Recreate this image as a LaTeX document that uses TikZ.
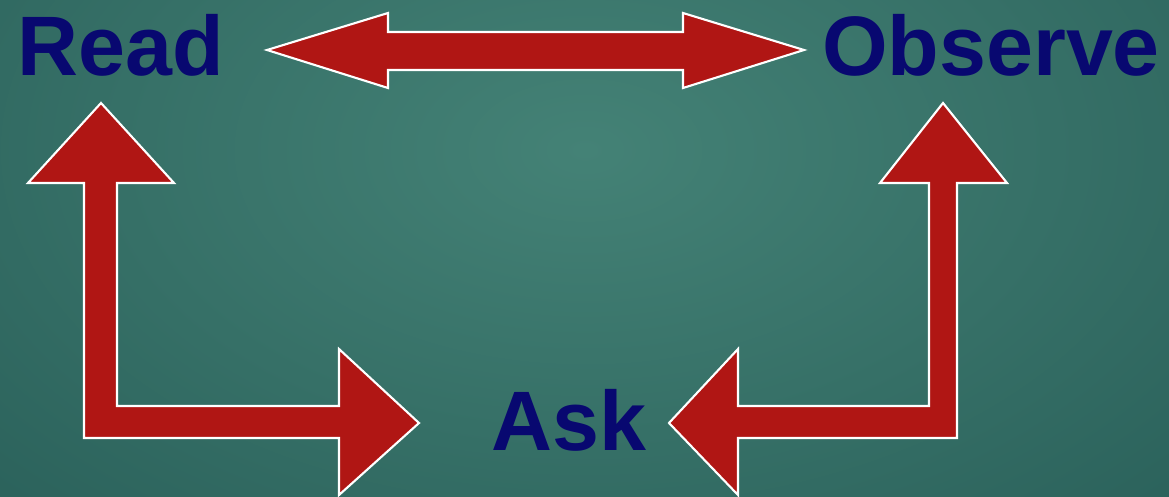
\documentclass[tikz,border=0pt]{standalone}
\usepackage{fontspec}
\setmainfont{Liberation Sans}
\usepackage{tikz}
\definecolor{bginner}{RGB}{68,130,118}
\definecolor{bgouter}{RGB}{40,94,88}
\definecolor{arrowred}{RGB}{176,22,20}
\definecolor{wordblue}{RGB}{8,8,112}
\tikzset{
  blockarrow/.style={fill=arrowred, draw=white, line width=0.6pt, line join=miter},
  word/.style={font=\fontsize{24}{28}\selectfont\bfseries, text=wordblue,
    inner sep=0pt, anchor=base},
}

\begin{document}
\begin{tikzpicture}[x=0.01cm, y=-0.01cm]
  \useasboundingbox (0,0) rectangle (1169,497);
  \begin{scope}
    \clip (0,0) rectangle (1169,497);
    \shade[inner color=bginner, outer color=bgouter] (-350,-420) rectangle (1520,720);
  \end{scope}
  % the three words
  \node[word] (read) at (121,75) {Read};
  \node[word] (observe) at (991,75) {Observe};
  \node[word] (ask) at (569,450) {Ask};
  % Read <-> Observe
  \draw[blockarrow] (267,50) -- (388,13) -- (388,32) -- (683,32) -- (683,13)
    -- (804,50) -- (683,88) -- (683,70) -- (388,70) -- (388,88) -- cycle;
  % Ask -> Read (bent)
  \draw[blockarrow] (101,103) -- (174,183) -- (117,183) -- (117,406) -- (339,406)
    -- (339,349) -- (419,423) -- (339,495) -- (339,438) -- (84,438) -- (84,183)
    -- (28,183) -- cycle;
  % Ask -> Observe (bent)
  \draw[blockarrow] (943,103) -- (1007,183) -- (957,183) -- (957,438) -- (738,438)
    -- (738,495) -- (669,423) -- (738,349) -- (738,406) -- (929,406) -- (929,183)
    -- (880,183) -- cycle;
\end{tikzpicture}
\end{document}
